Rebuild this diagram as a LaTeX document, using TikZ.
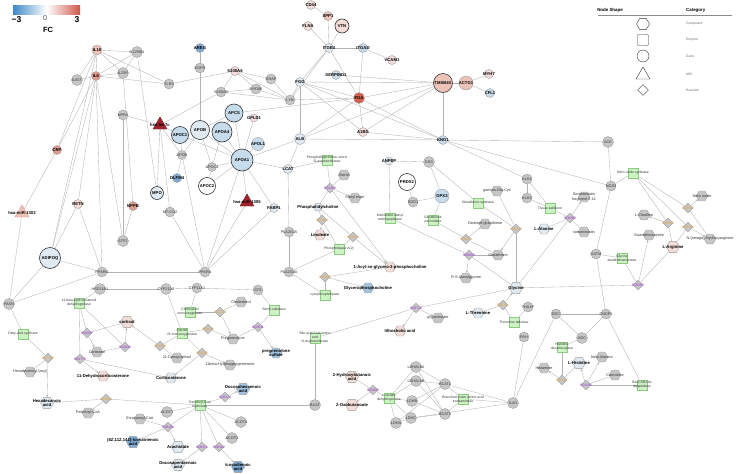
\documentclass[tikz,border=0pt]{standalone}
\usepackage{fontspec}
\setmainfont{Liberation Sans}
\usepackage{xcolor}
\usetikzlibrary{arrows.meta,shapes.geometric,backgrounds}
\definecolor{NodeGray}{HTML}{C6C6C6}
\definecolor{NodeLine}{HTML}{9C9C9C}
\definecolor{EdgeGray}{HTML}{B2B2B2}
\definecolor{PinkA}{HTML}{F4DDD8}
\definecolor{PinkB}{HTML}{EDC3B8}
\definecolor{PinkC}{HTML}{E19A8B}
\definecolor{RedA}{HTML}{D4614D}
\definecolor{WineRed}{HTML}{A3232B}
\definecolor{BlueA}{HTML}{E0EAF2}
\definecolor{BlueB}{HTML}{C6DBEB}
\definecolor{BlueC}{HTML}{7EA9D3}
\definecolor{BlueD}{HTML}{A3C4E0}
\definecolor{EnzGreen}{HTML}{CDF3C5}
\definecolor{EnzLine}{HTML}{8ACB7E}
\definecolor{RxnPurple}{HTML}{A032D2}
\definecolor{RxnOrange}{HTML}{E8A23A}
\definecolor{FcBlue}{HTML}{3F88C5}
\definecolor{FcRed}{HTML}{D0584A}

\begin{document}
\begin{tikzpicture}[x=1pt,y=-1pt,
  glbl/.style={font=\fontsize{3.8}{4.3}\selectfont,text=black!80,align=center,inner sep=0pt},
  blbl/.style={font=\bfseries\fontsize{4.2}{4.6}\selectfont,text=black,align=center,inner sep=0pt},
  elbl/.style={font=\fontsize{3.4}{3.9}\selectfont,text=black!80,align=center,inner sep=0pt},
  rlbl/.style={font=\fontsize{3.4}{3.9}\selectfont,align=center,inner sep=0pt},
  gshape/.style={circle,draw=NodeLine,fill=NodeGray,minimum size=10pt,inner sep=0pt,line width=0.4pt},
  gene/.style={gshape,label={[glbl]center:{#1}}},
  geneb/.style={gshape,label={[blbl]center:{#1}}},
  big/.style={draw=black!80,line width=0.6pt},
  cshape/.style={regular polygon,regular polygon sides=6,draw=NodeLine,fill=NodeGray,
    minimum size=11.5pt,inner sep=0pt,line width=0.4pt},
  cpd/.style={cshape,label={[glbl]center:{#1}}},
  cpdb/.style={cshape,label={[blbl]center:{#1}}},
  enz/.style={rectangle,draw=EnzLine,fill=EnzGreen,minimum size=9.5pt,inner sep=0pt,
    line width=0.4pt,label={[elbl]center:{#1}}},
  rshape/.style={diamond,draw=NodeLine,fill=NodeGray,minimum size=10pt,inner sep=0pt,line width=0.4pt},
  rxnp/.style={rshape,label={[rlbl,text=RxnPurple]center:{#1}}},
  rxno/.style={rshape,label={[rlbl,text=RxnOrange]center:{#1}}},
  mir/.style={regular polygon,regular polygon sides=3,draw=WineRed!70!black,fill=WineRed,
    minimum size=16pt,inner sep=0pt,line width=0.4pt,label={[blbl]center:{#1}}},
  edge/.style={draw=EdgeGray,line width=0.35pt},
  flow/.style={edge,-{Stealth[length=2.4pt,width=2.2pt]}},
  cat/.style={font=\fontsize{3.3}{4}\selectfont,text=black!60,anchor=west,inner sep=0pt},
  head/.style={font=\bfseries\fontsize{4.4}{5}\selectfont,inner sep=0pt}
]
\useasboundingbox (0,0) rectangle (740,474);

% colour scale
\shade[left color=FcBlue,right color=FcRed,middle color=white] (13,5) rectangle (80,14);
\node[font=\bfseries\fontsize{8.5}{9}\selectfont,inner sep=0pt] (fcmin) at (16.5,19.5) {−3};
\node[font=\fontsize{7}{8}\selectfont,text=black!70,inner sep=0pt] (fcmid) at (45,18) {0};
\node[font=\bfseries\fontsize{8.5}{9}\selectfont,inner sep=0pt] (fcmax) at (77,19.5) {3};
\node[font=\bfseries\fontsize{7.5}{8}\selectfont,inner sep=0pt] (fclbl) at (48,29.5) {FC};

% legend
\node[head] (hdshape) at (610,10) {Node Shape};
\node[head,anchor=west] (hdcat) at (686,10) {Category};
\draw[black!45,line width=0.7pt] (598,15) -- (732,15);
\node[regular polygon,regular polygon sides=6,draw=black!80,fill=white,minimum size=13pt,inner sep=0pt] (lgcpd) at (643,24) {};
\node[rectangle,draw=black!80,fill=white,minimum size=11pt,rounded corners=0.8pt,inner sep=0pt] (lgenz) at (643,40) {};
\node[circle,draw=black!80,fill=white,minimum size=12pt,inner sep=0pt] (lggene) at (643,56) {};
\node[regular polygon,regular polygon sides=3,draw=black!80,fill=white,minimum size=16pt,inner sep=0pt] (lgmir) at (643,75) {};
\node[diamond,draw=black!80,fill=white,minimum size=11pt,inner sep=0pt] (lgrxn) at (643,90) {};
\node[cat] at (686,24) {Compound};
\node[cat] at (686,40) {Enzyme};
\node[cat] at (686,56) {Gene};
\node[cat] at (686,74) {MiR};
\node[cat] at (686,90) {Reaction};

% genes
\node[geneb=CD44,fill=PinkA,minimum size=9pt] (cd44) at (311,5) {};
\node[geneb=SPP1,fill=PinkB,minimum size=9pt] (spp1) at (328,16) {};
\node[geneb=FLNA,fill=PinkA,minimum size=9pt] (flna) at (308,26) {};
\node[geneb=VTN,fill=PinkA,minimum size=14pt,big] (vtn) at (342,26) {};
\node[geneb=AREG,fill=BlueC,minimum size=9pt] (areg) at (200,48) {};
\node[geneb=ITGB3,fill=BlueA,minimum size=9pt] (itgb3) at (329,48) {};
\node[geneb=ITGAD,fill=BlueB,minimum size=9pt] (itgad) at (363,48) {};
\node[gene=EGFR] (egfr) at (200,68) {};
\node[geneb=S100A8,fill=PinkA,minimum size=9pt] (s100a8) at (235,71) {};
\node[gene=GRAP] (grap) at (271,79) {};
\node[gene=S100A9] (s100a9) at (221,92) {};
\node[gene=MYD88] (myd88) at (256,89) {};
\node[gene=LYN] (lyn) at (290,100) {};
\node[geneb=FGG,fill=BlueA,minimum size=9pt] (fgg) at (300,82) {};
\node[geneb=SERPIND1,fill=BlueB,minimum size=9pt] (serpind1) at (336,75) {};
\node[geneb=FGA,fill=RedA,minimum size=11pt] (fga) at (359,98) {};
\node[geneb=VCAM1,fill=PinkA,minimum size=9pt] (vcam1) at (392,60) {};
\node[geneb=TMSB4X,fill=PinkB,minimum size=19pt,big] (tmsb4x) at (443,83) {};
\node[geneb=ACTG1,fill=PinkB,minimum size=14pt] (actg1) at (466,83) {};
\node[geneb=MYH7,fill=PinkA,minimum size=9pt] (myh7) at (489,74) {};
\node[geneb=CFL1,fill=BlueB,minimum size=9pt] (cfl1) at (490,93) {};
\node[geneb=KNG1,fill=BlueB,minimum size=9pt] (kng1) at (443,140) {};
\node[gene=ACE,minimum size=11pt] (ace) at (608,142) {};
\node[geneb=ALB,fill=BlueA,minimum size=11pt] (alb) at (300,139) {};
\node[geneb=A1BG,fill=PinkA,minimum size=9pt] (a1bg) at (363,132) {};
\node[geneb=APCS,fill=BlueB,minimum size=18pt,big] (apcs) at (234,113) {};
\node[geneb=GPLD1,fill=PinkA,minimum size=8pt] (gpld1) at (254,118) {};
\node[geneb=APOB,fill=BlueA,minimum size=19pt,big] (apob) at (200,130) {};
\node[geneb=APOA4,fill=BlueB,minimum size=20pt,big] (apoa4) at (222,132) {};
\node[geneb=APOL1,fill=BlueB,minimum size=13pt] (apol1) at (258,144) {};
\node[geneb=APOA1,fill=BlueB,minimum size=22pt,big] (apoa1) at (242,160) {};
\node[geneb=APOC1,fill=BlueB,minimum size=17pt,big] (apoc1) at (180,135) {};
\node[gene=APOE,minimum size=9pt] (apoe) at (182,155) {};
\node[gene=APOC3,minimum size=9pt] (apoc3) at (212,167) {};
\node[geneb=APOC2,fill=white,minimum size=17pt,big] (apoc2) at (207,186) {};
\node[geneb=LCAT,fill=BlueA,minimum size=9pt] (lcat) at (288,169) {};
\node[geneb=FABP1,fill=BlueA,minimum size=9pt] (fabp1) at (274,208) {};
\node[mir=hsa-miR-1305] (mir1305) at (247,202) {};
\node[mir=hsa-let-7c] (let7c) at (160,125) {};
\node[mir=hsa-miR-1303,fill=PinkB,draw=PinkC] (mir1303) at (22,213) {};
\node[geneb=IL10,fill=PinkB,minimum size=10pt] (il10) at (97,50) {};
\node[gene=IL12RB1,minimum size=11pt] (il12rb1) at (137,52) {};
\node[gene=IL6ST,minimum size=11pt] (il6st) at (77,80) {};
\node[geneb=IL6,fill=PinkC,minimum size=9pt] (il6) at (96,76) {};
\node[gene=IL23R,minimum size=11pt] (il23r) at (123,73) {};
\node[gene=TLR4] (tlr4) at (169,84) {};
\node[gene=NPPA] (nppa) at (123,115) {};
\node[geneb=CRP,fill=PinkC,minimum size=9pt] (crp) at (57,150) {};
\node[geneb=RETN,fill=PinkA,minimum size=9pt] (retn) at (78,204) {};
\node[geneb=NPPB,fill=PinkC,minimum size=9pt] (nppb) at (133,206) {};
\node[geneb=MPO,fill=BlueA,minimum size=13pt,big] (mpo) at (157,193) {};
\node[geneb=OLFM4,fill=BlueC,minimum size=9pt] (olfm4) at (177,178) {};
\node[gene=MT-CO2] (mtco2) at (170,212) {};
\node[gene=ATF2,minimum size=11pt] (atf2) at (123,241) {};
\node[geneb=ADIPOQ,fill=BlueA,minimum size=21pt,big] (adipoq) at (50,258) {};
\node[gene=PPARG] (pparg) at (102,272) {};
\node[gene=PPARA] (ppara) at (205,272) {};
\node[gene=HSD11B1,minimum size=11pt] (hsd11b1) at (100,289) {};
\node[gene=CYP21A2,minimum size=11pt] (cyp21a2) at (166,289) {};
\node[gene=CYP11A1] (cyp11a1) at (197,288) {};
\node[gene=STS] (sts) at (258,290) {};
\node[gene=FASN,minimum size=11pt] (fasn) at (9,304) {};
\node[gene=NOS3] (nos3) at (611,186) {};
\node[gene=GATM] (gatm) at (596,254) {};
\node[geneb=ANPEP,fill=BlueA,minimum size=8pt] (anpep) at (389,161) {};
\node[gene=GSS,minimum size=11pt] (gss) at (429,162) {};
\node[geneb=PRDX2,fill=white,minimum size=17pt,big] (prdx2) at (407,182) {};
\node[gene=SOD1] (sod1) at (413,202) {};
\node[geneb=GPX3,fill=BlueB,minimum size=14pt] (gpx3) at (442,196) {};
\node[gene=KLK1] (klk1) at (527,179) {};
\node[gene=KLK2] (klk2) at (527,198) {};
\node[gene=PLA2G15] (pla2g15) at (289,232) {};
\node[gene=PLA2G4A] (pla2g4a) at (289,272) {};
\node[gene=BAAT,minimum size=11pt] (baat) at (315,405) {};
\node[gene=ACOT1,minimum size=11pt] (acot1) at (167,412) {};
\node[gene=ACOT4,minimum size=11pt] (acot4) at (241,422) {};
\node[gene=ACOT2,minimum size=11pt] (acot2) at (232,438) {};
\node[gene=LDHAL6A,minimum size=11pt] (ldhal6a) at (416,367) {};
\node[gene=LDHAL6B,minimum size=11pt] (ldhal6b) at (416,381) {};
\node[gene=BCAT2,minimum size=11pt] (bcat2) at (445,384) {};
\node[gene=LDHB,minimum size=11pt] (ldhb) at (412,401) {};
\node[gene=BCAT1,minimum size=11pt] (bcat1) at (445,414) {};
\node[gene=LDHC,minimum size=11pt] (ldhc) at (411,418) {};
\node[gene=LDHA,minimum size=11pt] (ldha) at (396,423) {};
\node[gene=IL4I1,minimum size=11pt] (il4i1) at (513,403) {};
\node[gene=PAH] (pah) at (524,337) {};
\node[gene=THA1P] (tha1p) at (528,307) {};
\node[gene=DDC] (ddc) at (556,314) {};
\node[gene=CNDP1] (cndp1) at (606,314) {};
\node[gene=HDC,minimum size=11pt] (hdc) at (582,338) {};

% enzymes
\node[enz={Phosphatidylcholine--sterol\\O-acyltransferase}] (epcsoa) at (327,160) {};
\node[enz={Phospholipase A(2)}] (epla) at (339,249) {};
\node[enz=Lysophospholipase] (elyso) at (325,295) {};
\node[enz=Steryl-sulfatase] (ests) at (274,310) {};
\node[enz={Cholesterol\\monooxygenase}] (echol) at (190,312) {};
\node[enz={Steroid\\21-monooxygenase}] (ecyp) at (182,333) {};
\node[enz={11-beta-hydroxysteroid\\dehydrogenase}] (ehsd) at (79,303) {};
\node[enz={Fatty-acid synthase}] (efas) at (23,334) {};
\node[enz={Palmitoyl-CoA\\hydrolase}] (epch) at (200,405) {};
\node[enz={Bile acid-CoA:amino\\acid\\N-acyltransferase}] (ebile) at (315,338) {};
\node[enz={L-lactate\\dehydrogenase}] (eldh) at (389,398) {};
\node[enz={Branched-chain amino-acid\\transaminase}] (ebcat) at (463,399) {};
\node[enz={Threonine aldolase}] (ethr) at (514,322) {};
\node[enz={Histidine\\decarboxylase}] (ehdc) at (562,347) {};
\node[enz={Beta-Ala-His\\dipeptidase}] (ecarn) at (642,385) {};
\node[enz={Glycine\\amidinotransferase}] (egatm) at (622,258) {};
\node[enz={Nitric-oxide synthase}] (enos) at (633,173) {};
\node[enz={Tissue kallikrein}] (etk) at (550,208) {};
\node[enz={Glutathione synthase}] (egs) at (478,203) {};
\node[enz={Glutathione\\peroxidase}] (egpx) at (433,220) {};
\node[enz={Membrane alanyl\\aminopeptidase}] (eanp) at (390,218) {};

% compounds
\node[cpd=Sterol] (csterol) at (344,175) {};
\node[cpd={Steryl ester}] (csteryl) at (355,198) {};
\node[cpdb=Phosphatidylcholine,fill=BlueA,minimum size=9pt] (cpc) at (318,207) {};
\node[cpdb=Linoleate,fill=PinkA] (clino) at (320,235) {};
\node[cpdb={1-Acyl-sn-glycero-3-phosphocholine},fill=PinkA] (cacyl) at (390,267) {};
\node[cpdb=Glycerophosphocholine,fill=BlueD] (cgpc) at (368,288) {};
\node[cpd=Cholesterol] (cchol) at (241,302) {};
\node[cpd=Pregnenolone] (cpreg) at (233,339) {};
\node[cpdb={pregnenolone\\sulfate},fill=BlueD] (cpregs) at (276,353) {};
\node[cpd=11beta-Hydroxyprogesterone] (c11bhp) at (230,365) {};
\node[cpd=21-Deoxycortisol] (c21dc) at (177,358) {};
\node[cpdb=cortisol,fill=PinkA,minimum size=13pt] (ccortisol) at (127,322) {};
\node[cpd=Cortisone] (ccortisone) at (97,352) {};
\node[cpdb=11-Dehydrocorticosterone,fill=PinkA] (c11dhc) at (103,376) {};
\node[cpdb=Corticosterone,fill=BlueA] (ccort) at (171,378) {};
\node[cpd={Hexadecanoyl-[acp]}] (chacp) at (30,372) {};
\node[cpdb={Hexadecanoic\\acid},fill=BlueA,minimum size=13pt] (chda) at (47,403) {};
\node[cpd=Palmitoyl-CoA] (cpcoa) at (88,413) {};
\node[cpd=Eicosanoyl-CoA] (cecoa) at (140,419) {};
\node[cpdb={(8Z,11Z,14Z)-Icosatrienoic\\acid},fill=BlueC,minimum size=13pt] (cita) at (133,442) {};
\node[cpdb=Arachidate,fill=BlueA,minimum size=13pt] (carach) at (178,447) {};
\node[cpdb={Docosapentaenoic\\acid},fill=BlueA,minimum size=13pt] (cdpa) at (178,465) {};
\node[cpdb={Docosahexaenoic\\acid},fill=BlueD,minimum size=13pt] (cdha) at (243,389) {};
\node[cpdb={Icosadienoic\\acid},fill=BlueC,minimum size=13pt] (cida) at (238,467) {};
\node[cpdb={2-Hydroxybutanoic\\acid},fill=PinkA,minimum size=13pt] (c2hb) at (352,377) {};
\node[cpdb=2-Oxobutanoate,fill=PinkA,minimum size=13pt] (c2ob) at (352,405) {};
\node[cpdb={lithocholic acid},fill=PinkA] (clitho) at (400,331) {};
\node[cpd=glycocholate] (cglyco) at (438,318) {};
\node[cpdb=L-Threonine,fill=BlueA] (cthr) at (478,313) {};
\node[cpdb=Glycine,fill=BlueA,minimum size=13pt] (cgly) at (516,288) {};
\node[cpdb=L-Alanine,fill=BlueA] (cala) at (544,229) {};
\node[cpd=gamma-Glu-Cys] (cggc) at (497,191) {};
\node[cpd={Oxidized glutathione}] (cgssg) at (485,224) {};
\node[cpd=Glutathione] (cgsh) at (498,255) {};
\node[cpd=R-S-Alanylglycine] (crsag) at (466,278) {};
\node[cpd={Somatostatin\\fragment 3-14}] (cssf) at (584,197) {};
\node[cpd=somatostatin] (csst) at (584,232) {};
\node[cpd=L-Citrulline] (ccit) at (644,215) {};
\node[cpd={Nitric oxide}] (cno) at (702,196) {};
\node[cpd=N-(omega)-Hydroxyarginine] (cnoha) at (710,239) {};
\node[cpd=Guanidinoacetate] (cgaa) at (649,235) {};
\node[cpdb=L-Arginine,fill=PinkA,minimum size=13pt] (carg) at (673,247) {};
\node[cpd=Histamine] (chist) at (544,368) {};
\node[cpdb=L-Histidine,fill=BlueA,minimum size=13pt] (chis) at (579,363) {};
\node[cpd=beta-Alanine] (cbala) at (602,357) {};
\node[cpd=Carnosine] (ccarn) at (615,375) {};

% reactions
\node[rxnp=R01462] (r1) at (330,188) {};
\node[rxno=R07064] (r2) at (322,220) {};
\node[rxno=R01315] (r3) at (353,237) {};
\node[rxno=R01030] (r4) at (325,277) {};
\node[rxno=R02723] (r5) at (220,312) {};
\node[rxnp=R02611] (r6) at (258,327) {};
\node[rxno=R02216] (r7) at (208,329) {};
\node[rxno=R03205] (r8) at (202,353) {};
\node[rxno=R03332] (r9) at (160,346) {};
\node[rxnp=R02837] (r10) at (87,333) {};
\node[rxnp=R02836] (r11) at (125,347) {};
\node[rxnp=R04770] (r12) at (80,359) {};
\node[rxno=R07762] (r13) at (48,358) {};
\node[rxno=R01280] (r14) at (106,399) {};
\node[rxnp=R08180] (r15) at (168,427) {};
\node[rxnp=R08174] (r16) at (225,397) {};
\node[rxnp=R08176] (r17) at (202,447) {};
\node[rxnp=R08182] (r18) at (219,447) {};
\node[rxnp=R03719] (r19) at (416,308) {};
\node[rxnp=R01000] (r20) at (373,390) {};
\node[rxno=R00497] (r21) at (516,229) {};
\node[rxno=R00274] (r22) at (466,239) {};
\node[rxnp=R00899] (r23) at (469,255) {};
\node[rxnp=R06280] (r24) at (570,218) {};
\node[rxno=R00557] (r25) at (688,208) {};
\node[rxno=R01555] (r26) at (668,223) {};
\node[rxno=R00558] (r27) at (688,227) {};
\node[rxnp=R00565] (r28) at (638,285) {};
\node[rxno=R00751] (r29) at (503,305) {};
\node[rxno=R01167] (r30) at (562,380) {};
\node[rxnp=R01164] (r31) at (586,385) {};

\begin{scope}[on background layer]
% gene-gene links
\foreach \a/\b in {il10/il12rb1,il10/il6,il10/il23r,il10/tlr4,il10/il6st,il10/crp,il10/adipoq,
  il12rb1/il6,il12rb1/il23r,il12rb1/mpo,il6st/il6,il6/il23r,il6/tlr4,il6/crp,il6/adipoq,
  il6/retn,il6/pparg,il6/atf2,il23r/nppb,crp/mir1303,mir1303/fasn,retn/adipoq,retn/pparg,
  adipoq/pparg,adipoq/fasn,pparg/fasn,pparg/ppara,nppa/atf2,nppa/let7c,nppb/atf2,
  tlr4/s100a8,let7c/s100a9,let7c/apoc1,let7c/apoe,let7c/mpo,let7c/mtco2,mtco2/ppara,
  olfm4/apoe,areg/egfr,egfr/apob,s100a8/s100a9,s100a8/myd88,s100a8/grap,s100a8/lyn,
  s100a9/myd88,s100a9/lyn,myd88/lyn,grap/lyn,lyn/fgg,lyn/itgb3,lyn/fga}
  \draw[edge] (\a) -- (\b);
\foreach \a/\b in {cd44/spp1,spp1/itgb3,flna/itgb3,vtn/itgb3,itgb3/itgad,itgb3/fgg,
  itgb3/fga,itgad/fga,itgad/vcam1,fgg/fga,fgg/alb,fgg/kng1,fgg/tmsb4x,fgg/a1bg,
  serpind1/tmsb4x,fga/tmsb4x,fga/kng1,fga/a1bg,fga/alb,alb/tmsb4x,alb/kng1,a1bg/kng1,
  a1bg/tmsb4x,tmsb4x/actg1,actg1/myh7,actg1/cfl1,tmsb4x/kng1,kng1/ace,kng1/klk1,
  kng1/nos3,ace/nos3,alb/apoa1,alb/lcat,apcs/fga,apcs/apoa1,apcs/apoa4,apcs/apob,
  apoa1/apoc3,apoa1/apoc2,apoa1/mir1305,apoa1/fabp1,apoa1/ppara,apoa1/lcat,apoa1/apol1,
  apoa1/apoa4,apoa1/apob,apoa1/gpld1,apoa1/apoc1,apob/apoc1,apob/apoa4,apob/apoe,
  apob/apoc3,apoa4/apoc3,apoc1/apoe,apoc2/apoc3,mir1305/ppara,fabp1/ppara,apoe/ppara}
  \draw[edge] (\a) -- (\b);
% gene-enzyme links
\foreach \a/\b in {lcat/pla2g15,lcat/epcsoa,pla2g15/pla2g4a,pla2g4a/epla,pla2g4a/elyso,
  hsd11b1/cyp21a2,cyp21a2/cyp11a1,cyp11a1/sts,hsd11b1/ehsd,cyp21a2/ecyp,cyp11a1/echol,
  sts/ests,fasn/efas,anpep/gss,anpep/eanp,gss/egs,gss/gpx3,prdx2/sod1,sod1/gpx3,
  gpx3/egpx,klk1/klk2,klk1/etk,klk2/etk,nos3/enos,nos3/gatm,gatm/egatm,gatm/cndp1,
  ddc/cndp1,ddc/hdc,hdc/cndp1,hdc/ehdc,ddc/il4i1,pah/il4i1,cndp1/ecarn,tha1p/ethr,
  il4i1/ebcat,il4i1/bcat2,il4i1/ldhc,bcat1/ebcat,bcat2/ebcat,ldhal6a/eldh,ldhal6b/eldh,
  ldhb/eldh,ldhc/eldh,ldha/eldh,ldhal6a/bcat2,ldhal6a/bcat1,ldhal6b/bcat2,ldhal6b/bcat1,
  ldhb/bcat2,ldhb/bcat1,ldhc/bcat1,ldha/bcat2,ldha/ldhc,baat/ebile,baat/epch,
  acot1/epch,acot4/epch,acot2/epch}
  \draw[edge] (\a) -- (\b);
% reaction inputs
\foreach \a/\b in {epcsoa/r1,csterol/r1,cpc/r1,cpc/r2,epla/r2,cpc/r3,epla/r3,cacyl/r4,
  elyso/r4,cchol/r5,echol/r5,cpreg/r6,ests/r6,ecyp/r7,cpreg/r7,ecyp/r8,ecyp/r9,c21dc/r9,
  ehsd/r10,ccortisol/r10,ehsd/r11,ccortisone/r11,ehsd/r12,ccort/r12,efas/r13,chacp/r13,
  chda/r14,epch/r14,epch/r15,cecoa/r15,epch/r16,epch/r17,epch/r18,ebile/r19,cgly/r19,
  eldh/r20,c2hb/r20,egs/r21,cggc/r21,cgly/r21,egpx/r22,cgsh/r22,eanp/r23,cgly/r23,
  cgsh/r23,etk/r24,csst/r24,cala/r24,cgly/r24,enos/r25,cnoha/r25,enos/r26,carg/r26,
  enos/r27,carg/r27,egatm/r28,carg/r28,cgly/r28,ethr/r29,cthr/r29,ehdc/r30,chis/r30,
  ecarn/r31,ccarn/r31}
  \draw[edge] (\a) -- (\b);
% reaction outputs
\foreach \a/\b in {r1/csteryl,r1/cacyl,r2/clino,r3/cacyl,r4/cgpc,r5/cpreg,r6/cpregs,
  r8/c11bhp,r8/ccort,r9/ccortisol,r10/ccortisone,r11/ccortisol,r12/c11dhc,r13/chda,
  r14/cpcoa,r15/cita,r15/carach,r16/cdha,r17/cdpa,r18/cida,r19/clitho,r19/cglyco,
  r20/c2ob,r21/cgsh,r22/cgssg,r23/crsag,r24/cssf,r25/cno,r26/ccit,r27/cnoha,r28/cgaa,
  r29/cgly,r30/chist,r31/chis,r31/cbala}
  \draw[flow] (\a) -- (\b);
\end{scope}
\end{tikzpicture}
\end{document}
